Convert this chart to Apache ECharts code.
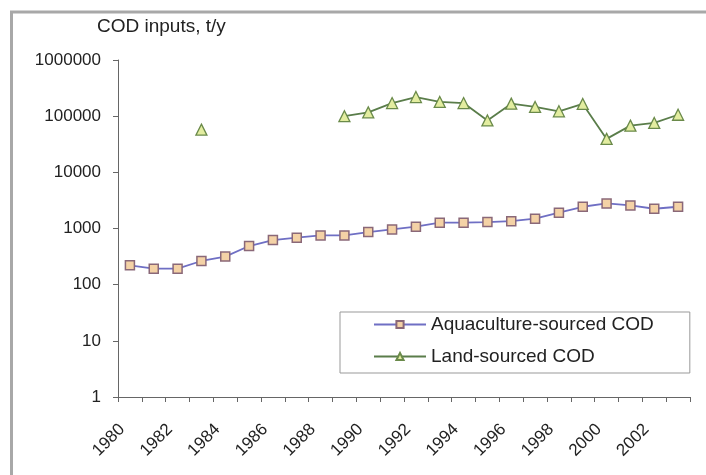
<!DOCTYPE html>
<html>
<head>
<meta charset="utf-8">
<script src="https://cdn.jsdelivr.net/npm/echarts@6/dist/echarts.min.js"></script>
<style>
html,body{margin:0;padding:0;background:#fff;}
#chart{width:706px;height:475px;}
</style>
</head>
<body>
<div id="chart"></div>
<script>
const years = ['1980','1981','1982','1983','1984','1985','1986','1987','1988','1989','1990','1991','1992','1993','1994','1995','1996','1997','1998','1999','2000','2001','2002','2003'];
const aquaculture = [221,193,193,264,316,487,622,687,754,754,863,964,1076,1268,1268,1300,1353,1493,1909,2438,2791,2571,2248,2438];
const land = [null,null,null,57600,null,null,null,null,null,100000,117000,171000,219000,179000,171000,84000,167000,146000,122000,165000,39400,67800,75700,106000];
const yTicks = [1,10,100,1000,10000,100000,1000000];
const titleText = 'COD inputs, t/y';
const seriesNames = ['Aquaculture-sourced COD','Land-sourced COD'];

const FONT = '"Liberation Sans", Arial, sans-serif';
const chart = echarts.init(document.getElementById('chart'), null, {renderer:'canvas'});
chart.setOption({
  animation:false,
  backgroundColor:'#fff',
  graphic:[
    {type:'rect', shape:{x:11.5,y:12,width:740,height:520}, style:{fill:'none', stroke:'#a8a8a8', lineWidth:3}, z:100},
    {type:'text', left:97, top:17, style:{text:titleText, font:'19px '+FONT, fill:'#222'}}
  ],
  grid:{left:118, right:16, top:60, bottom:78, containLabel:false},
  legend:{
    left:340, top:312, orient:'vertical',
    padding:[3,36,7,33], itemGap:13,
    itemWidth:52, itemHeight:9,
    borderColor:'#999', borderWidth:1,
    textStyle:{fontSize:19, fontFamily:FONT, color:'#222'},
    data:seriesNames
  },
  xAxis:{
    type:'category', data:years, boundaryGap:true,
    axisLine:{lineStyle:{color:'#666', width:1}},
    axisTick:{show:true, interval:0, alignWithLabel:false, length:5, lineStyle:{color:'#666'}},
    axisLabel:{interval:1, rotate:45, margin:22, padding:[0,11,0,0], fontSize:17, fontFamily:FONT, color:'#222'},
    splitLine:{show:false}
  },
  yAxis:{
    type:'log', logBase:10, min:1, max:1000000, splitNumber:6,
    axisLine:{show:true, lineStyle:{color:'#666', width:1}},
    axisTick:{show:true, length:5, lineStyle:{color:'#666'}},
    minorTick:{show:false},
    axisLabel:{margin:17, fontSize:17, fontFamily:FONT, color:'#222',
      formatter:function(v){ return String(Math.round(v)); }},
    splitLine:{show:false}
  },
  series:[
    {
      name:seriesNames[0], type:'line', data:aquaculture,
      symbol:'rect', symbolSize:9, showAllSymbol:true,
      lineStyle:{color:'#6f6fc4', width:1.8},
      itemStyle:{color:'#f4d2a6', borderColor:'#8a6878', borderWidth:1.5}
    },
    {
      name:seriesNames[1], type:'line', data:land,
      symbol:'triangle', symbolSize:11, showAllSymbol:true, connectNulls:false,
      lineStyle:{color:'#5a7d4a', width:1.8},
      itemStyle:{color:'#e3eda0', borderColor:'#6a8a4a', borderWidth:1.3}
    }
  ]
});
</script>
</body>
</html>
